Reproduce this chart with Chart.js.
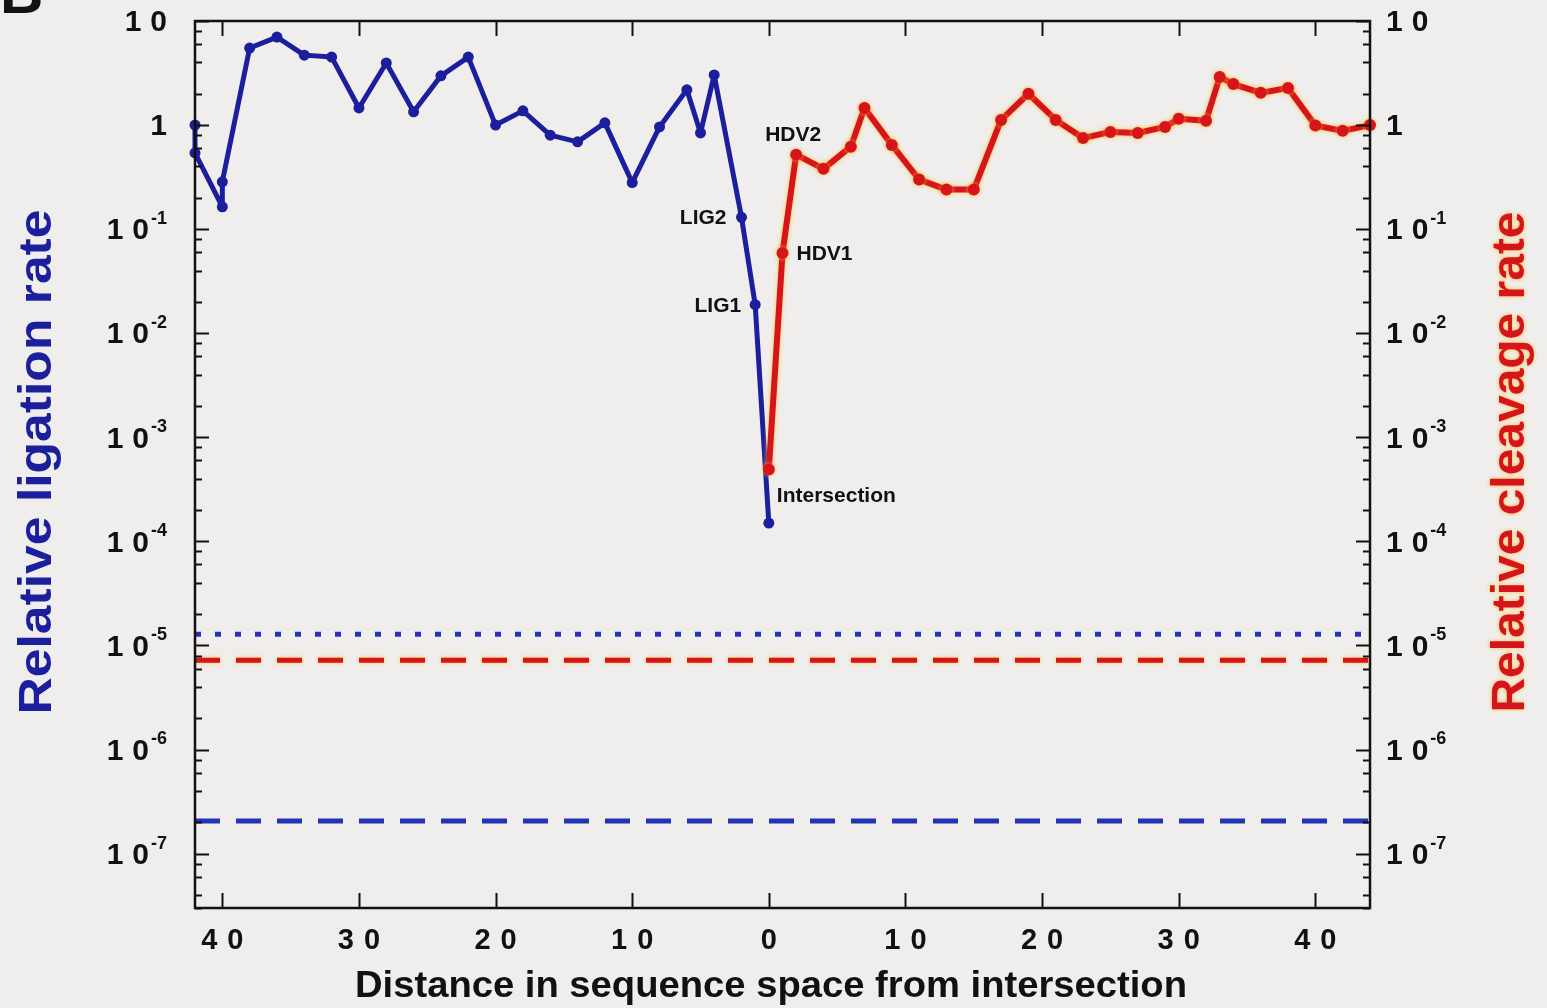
<!DOCTYPE html>
<html>
<head>
<meta charset="utf-8">
<script src="https://cdn.jsdelivr.net/npm/chart.js@4.4.1/dist/chart.umd.min.js"></script>
<style>
  html, body { margin: 0; padding: 0; background: #f0eeed; }
  #wrap { width: 1547px; height: 1008px; }
</style>
</head>
<body>
<div id="wrap"><canvas id="c" width="1547" height="1008"></canvas></div>
<script>
// ligation (left half, blue) - distance is plotted to the left of 0
var ligDist = [-42, -42, -40, -40, -38, -36, -34, -32, -30, -28, -26, -24, -22, -20, -18, -16, -14, -12, -10, -8, -6, -5, -4, -2, -1, 0];
var ligRate = [1.0, 0.54, 0.164, 0.285, 5.5, 7.0, 4.7, 4.5, 1.46, 3.95, 1.34, 2.97, 4.5, 1.0, 1.37, 0.80, 0.69, 1.05, 0.28, 0.96, 2.18, 0.84, 3.03, 0.13, 0.0188, 1.5e-4];

// cleavage (right half, red)
var clvDist = [0, 1, 2, 4, 6, 7, 9, 11, 13, 15, 17, 19, 21, 23, 25, 27, 29, 30, 32, 33, 34, 36, 38, 40, 42, 44];
var clvRate = [4.9e-4, 0.059, 0.52, 0.38, 0.62, 1.46, 0.645, 0.30, 0.24, 0.24, 1.12, 2.0, 1.12, 0.75, 0.86, 0.84, 0.96, 1.15, 1.1, 2.9, 2.48, 2.04, 2.27, 0.99, 0.88, 1.0];

// background levels
var ligDottedLevel = 1.28e-5;
var clvDashedLevel = 7.2e-6;
var ligDashedLevel = 2.06e-7;

// axis ranges
var xMin = -42, xMax = 44;
var yMin = 3.0e-8, yMax = 10;

// point labels: dataset key, index in that dataset
var pointNotes = [
  { text: 'LIG2', set: 'lig', idx: 23, dx: -15, dy: 1, align: 'right' },
  { text: 'LIG1', set: 'lig', idx: 24, dx: -14, dy: 2, align: 'right' },
  { text: 'Intersection', set: 'lig', idx: 25, dx: 8, dy: -27, align: 'left' },
  { text: 'HDV1', set: 'clv', idx: 1, dx: 14, dy: 1, align: 'left' },
  { text: 'HDV2', set: 'clv', idx: 2, dx: -3, dy: -19, align: 'center' }
];

var blue = '#1b1f9e';
var red = '#d6141c';

function pairs(xs, ys) {
  return xs.map(function (x, i) { return { x: x, y: ys[i] }; });
}
function flat(level) {
  return [{ x: xMin, y: level }, { x: xMax, y: level }];
}

var fontFam = '"Liberation Sans", Arial, Helvetica, sans-serif';

function spaced(ctx, text, x, y, gap, align) {
  var w = 0, i;
  for (i = 0; i < text.length; i++) w += ctx.measureText(text[i]).width;
  w += gap * (text.length - 1);
  var sx = align === 'right' ? x - w : (align === 'center' ? x - w / 2 : x);
  ctx.textAlign = 'left';
  for (i = 0; i < text.length; i++) {
    ctx.fillText(text[i], sx, y);
    sx += ctx.measureText(text[i]).width + gap;
  }
  return w;
}

function isDecade(v) {
  var l = Math.log10(v);
  return Math.abs(l - Math.round(l)) < 1e-6;
}

var paper = {
  id: 'paper',
  beforeDraw: function (chart) {
    var ctx = chart.ctx;
    ctx.save();
    ctx.fillStyle = '#f0eeed';
    ctx.fillRect(0, 0, chart.width, chart.height);
    ctx.restore();
  },
  beforeDatasetDraw: function (chart, args) {
    var ds = chart.data.datasets[args.index];
    chart.ctx.save();
    if (ds.glow) {
      chart.ctx.shadowColor = 'rgba(255,190,40,0.85)';
      chart.ctx.shadowBlur = 4;
    }
  },
  afterDatasetDraw: function (chart) {
    chart.ctx.restore();
  },
  afterDraw: function (chart) {
    var ctx = chart.ctx;
    var a = chart.chartArea;
    var xs = chart.scales.x, ys = chart.scales.y;
    ctx.save();

    // frame
    ctx.strokeStyle = '#111';
    ctx.lineWidth = 2.5;
    ctx.strokeRect(a.left, a.top, a.right - a.left, a.bottom - a.top);

    // inward ticks on log axes
    ctx.lineWidth = 2;
    ys.ticks.forEach(function (t) {
      var py = Math.round(ys.getPixelForValue(t.value)) + 0.5;
      if (py < a.top - 1 || py > a.bottom + 1) return;
      var len = isDecade(t.value) ? 14 : 7;
      ctx.beginPath();
      ctx.moveTo(a.left, py); ctx.lineTo(a.left + len, py);
      ctx.moveTo(a.right, py); ctx.lineTo(a.right - len, py);
      ctx.stroke();
    });
    // inward ticks on distance axis, top and bottom
    xs.ticks.forEach(function (t) {
      var px = Math.round(xs.getPixelForValue(t.value)) + 0.5;
      ctx.beginPath();
      ctx.moveTo(px, a.top); ctx.lineTo(px, a.top + 15);
      ctx.moveTo(px, a.bottom); ctx.lineTo(px, a.bottom - 15);
      ctx.stroke();
    });

    // y tick labels, left and right
    ctx.fillStyle = '#111';
    ctx.textBaseline = 'middle';
    ys.ticks.forEach(function (t) {
      if (!isDecade(t.value)) return;
      var e = Math.round(Math.log10(t.value));
      var py = ys.getPixelForValue(t.value) + 2;
      var base = e === 0 ? '1' : '10';
      var sup = e < 0 ? '-' + (-e) : '';
      ctx.font = 'bold 18px ' + fontFam;
      var supW = sup ? ctx.measureText(sup).width : 0;
      // left side, right-aligned to 167
      var rightEdge = 167;
      ctx.font = 'bold 30px ' + fontFam;
      spaced(ctx, base, rightEdge - (sup ? supW + 2 : 0), py, 9, 'right');
      if (sup) {
        ctx.font = 'bold 18px ' + fontFam;
        ctx.textAlign = 'left';
        ctx.fillText(sup, rightEdge - supW, py - 12);
      }
      // right side, left-aligned at 1386
      ctx.font = 'bold 30px ' + fontFam;
      var w2 = spaced(ctx, base, 1386, py, 9, 'left');
      if (sup) {
        ctx.font = 'bold 18px ' + fontFam;
        ctx.textAlign = 'left';
        ctx.fillText(sup, 1386 + w2 + 2, py - 12);
      }
    });

    // x tick labels: absolute distance from intersection
    ctx.font = 'bold 29px ' + fontFam;
    xs.ticks.forEach(function (t) {
      var px = xs.getPixelForValue(t.value);
      spaced(ctx, String(Math.abs(t.value)), px, 941, 10, 'center');
    });

    // axis titles
    ctx.textBaseline = 'alphabetic';
    ctx.textAlign = 'center';
    function title(text, x, y, rot, width, size, color, glow) {
      ctx.save();
      ctx.translate(x, y);
      ctx.rotate(rot);
      ctx.font = 'bold ' + size + 'px ' + fontFam;
      var m = ctx.measureText(text).width;
      ctx.scale(width / m, 1);
      ctx.fillStyle = color;
      if (glow) { ctx.shadowColor = 'rgba(255,185,40,0.9)'; ctx.shadowBlur = 4; }
      ctx.fillText(text, 0, 0);
      ctx.restore();
    }
    title('Relative ligation rate', 51, 462, -Math.PI / 2, 505, 46, blue, false);
    title('Relative cleavage rate', 1524, 462, -Math.PI / 2, 501, 46, red, true);
    title('Distance in sequence space from intersection', 771, 997, 0, 832, 37, '#111', false);

    // panel letter, cut off at the top
    ctx.font = 'bold 60px ' + fontFam;
    ctx.textAlign = 'left';
    ctx.fillStyle = '#111';
    ctx.fillText('B', 0, 13);

    // point notes
    ctx.font = 'bold 21px ' + fontFam;
    ctx.textBaseline = 'middle';
    ctx.fillStyle = '#111';
    pointNotes.forEach(function (n) {
      var di = n.set === 'lig' ? 1 : 0;
      var el = chart.getDatasetMeta(di).data[n.idx];
      ctx.textAlign = n.align;
      ctx.fillText(n.text, el.x + n.dx, el.y + n.dy);
    });

    ctx.restore();
  }
};

var chart = new Chart(document.getElementById('c'), {
  type: 'line',
  data: {
    datasets: [
      {
        label: 'Relative cleavage rate',
        data: pairs(clvDist, clvRate),
        yAxisID: 'y2',
        borderColor: red,
        backgroundColor: red,
        borderWidth: 6,
        pointRadius: 6,
        pointBorderWidth: 0,
        clip: false,
        glow: true
      },
      {
        label: 'Relative ligation rate',
        data: pairs(ligDist, ligRate),
        yAxisID: 'y',
        borderColor: blue,
        backgroundColor: blue,
        borderWidth: 5,
        pointRadius: 5.5,
        pointBorderWidth: 0,
        clip: false
      },
      {
        label: 'ligation background (dotted)',
        data: flat(ligDottedLevel),
        yAxisID: 'y',
        borderColor: '#2233b8',
        borderWidth: 5,
        borderDash: [6, 14],
        pointRadius: 0
      },
      {
        label: 'cleavage background',
        data: flat(clvDashedLevel),
        yAxisID: 'y2',
        borderColor: red,
        borderWidth: 5,
        borderDash: [25, 16],
        pointRadius: 0,
        glow: true
      },
      {
        label: 'ligation background (dashed)',
        data: flat(ligDashedLevel),
        yAxisID: 'y',
        borderColor: '#2233b8',
        borderWidth: 5,
        borderDash: [25, 16],
        pointRadius: 0
      }
    ]
  },
  options: {
    responsive: false,
    animation: false,
    events: [],
    layout: { padding: { left: 195, right: 177, top: 21, bottom: 100 } },
    plugins: { legend: { display: false }, tooltip: { enabled: false } },
    elements: { line: { tension: 0, borderCapStyle: 'butt', borderJoinStyle: 'round' } },
    scales: {
      x: {
        type: 'linear', display: false, min: xMin, max: xMax,
        ticks: { stepSize: 10, includeBounds: false }
      },
      y: { type: 'logarithmic', display: false, min: yMin, max: yMax },
      y2: { type: 'logarithmic', display: false, min: yMin, max: yMax, position: 'right' }
    }
  },
  plugins: [paper]
});
</script>
</body>
</html>
